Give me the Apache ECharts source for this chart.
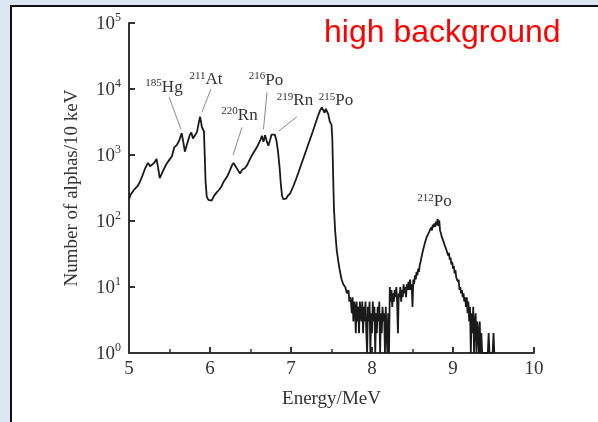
<!DOCTYPE html>
<html>
<head>
<meta charset="utf-8">
<script src="https://cdn.jsdelivr.net/npm/echarts@6/dist/echarts.min.js"></script>
<style>
  html, body { margin: 0; padding: 0; background: #dce6f2; }
  #wrap { position: relative; width: 598px; height: 422px; background: #dce6f2; overflow: hidden; }
  #paper { position: absolute; left: 9.5px; top: 4.5px; right: -5px; bottom: -5px; background: #fff;
           border-left: 2.5px solid #111; border-top: 2.5px solid #111; }
  #chart { position: absolute; left: 0; top: 0; width: 598px; height: 422px; }
</style>
</head>
<body>
<div id="wrap"><div id="paper"></div><div id="chart"></div></div>
<script>
// ---- data (energy in MeV, counts per 10 keV) ----
const energyMeV = [
  5.00, 5.02, 5.06, 5.10, 5.13, 5.17, 5.20, 5.235, 5.26, 5.28, 5.31, 5.34, 5.36, 5.38, 5.42, 5.46, 5.50, 5.53, 5.56, 5.59,
  5.62, 5.65, 5.67, 5.69, 5.72, 5.75, 5.77, 5.79, 5.815, 5.84, 5.86, 5.877, 5.89, 5.90, 5.91, 5.925, 5.935, 5.945, 5.96, 5.98,
  6.00, 6.02, 6.05, 6.08, 6.11, 6.14, 6.17, 6.21, 6.24, 6.27, 6.29, 6.31, 6.33, 6.35, 6.37, 6.40, 6.43, 6.46, 6.49, 6.52,
  6.55, 6.58, 6.60, 6.62, 6.64, 6.66, 6.68, 6.70, 6.72, 6.74, 6.76, 6.78, 6.80, 6.82, 6.84, 6.86, 6.875, 6.89, 6.905, 6.92,
  6.94, 6.96, 6.99, 7.03, 7.07, 7.11, 7.15, 7.19, 7.23, 7.27, 7.30, 7.33, 7.36, 7.38, 7.40, 7.415, 7.43, 7.445, 7.46, 7.48,
  7.50, 7.51, 7.52, 7.53, 7.545, 7.565, 7.585, 7.605, 7.625, 7.645, 7.67, 7.69, 7.71, 7.72, 7.73,
  7.74, 7.75, 7.76, 7.77, 7.78, 7.79, 7.80, 7.81, 7.82, 7.83, 7.84, 7.85, 7.86, 7.87, 7.88, 7.89, 7.90, 7.91, 7.92, 7.93,
  7.94, 7.95, 7.96, 7.97, 7.98, 7.99, 8.00, 8.01, 8.02, 8.03, 8.04, 8.05, 8.06, 8.07, 8.08, 8.09, 8.10, 8.11, 8.12, 8.13,
  8.14, 8.15, 8.16, 8.17, 8.18, 8.19, 8.20, 8.21, 8.22, 8.23, 8.24, 8.25, 8.26, 8.27, 8.28, 8.29, 8.30, 8.31, 8.32, 8.33,
  8.34, 8.35, 8.36, 8.37, 8.38, 8.39, 8.40, 8.41, 8.42, 8.43, 8.44, 8.45, 8.46, 8.47, 8.48, 8.49, 8.50, 8.51, 8.52, 8.53,
  8.54, 8.55, 8.56, 8.57, 8.58, 8.59, 8.60, 8.61, 8.62, 8.63, 8.64, 8.65, 8.66, 8.67, 8.68, 8.69, 8.70, 8.71, 8.72, 8.73,
  8.74, 8.75, 8.76, 8.77, 8.78, 8.79, 8.80, 8.81, 8.82, 8.83, 8.84, 8.85, 8.86, 8.87, 8.88, 8.89, 8.90, 8.91, 8.92, 8.93,
  8.94, 8.95, 8.96, 8.97, 8.98, 8.99, 9.00, 9.01, 9.02, 9.03, 9.04, 9.05, 9.06, 9.07, 9.08, 9.09, 9.10, 9.11, 9.12, 9.13,
  9.14, 9.15, 9.16, 9.17, 9.18, 9.19, 9.20, 9.21, 9.22, 9.23, 9.24, 9.25, 9.26, 9.27, 9.28, 9.29, 9.30, 9.31, 9.32, 9.33,
  9.34, 9.35, 9.36, 9.37, 9.43, 9.44, 9.45, 9.49, 9.50, 9.51
];
const countsPer10keV = [
  214, 251, 295, 331, 380, 501, 631, 759, 676, 631, 759, 871, 631, 447, 575, 724, 851, 955, 1318, 1413,
  1660, 2138, 1585, 1122, 1514, 1995, 2188, 1778, 1995, 2239, 3020, 3802, 3162, 2630, 2512, 2291, 1000, 398, 234, 209,
  219, 204, 240, 269, 295, 331, 398, 468, 562, 692, 759, 692, 661, 575, 525, 603, 631, 708, 851, 1000,
  1148, 1318, 1380, 1660, 1950, 1585, 1995, 1622, 1380, 1660, 2042, 2188, 2042, 1660, 1122, 631, 355, 240, 214, 229,
  219, 240, 263, 339, 457, 631, 871, 1202, 1660, 2291, 2951, 3802, 4786, 5248, 5370, 4365, 5012, 5370, 4169, 3162,
  2884, 1778, 501, 158, 71, 36, 24, 17, 13, 11, 10, 8, 9, 6, 7,
  6, 4, 7, 3, 6, 5, 2, 6, 3, 5, 2, 6, 4, 3, 6, 2, 5, 3, 6, 2,
  1, 5, 3, 6, 1, 4, 2, 6, 3, 5, 1, 4, 2, 5, 3, 6, 1, 4, 2, 5,
  3, 4, 1, 5, 2, 1, 4, 1, 10, 6, 9, 5, 8, 6, 9, 7, 10, 6, 2, 8,
  7, 10, 6, 9, 7, 11, 8, 10, 7, 11, 9, 12, 9, 13, 9, 11, 5, 13, 11, 15,
  13, 17, 15, 19, 17, 22, 24, 28, 30, 36, 38, 45, 44, 55, 52, 62, 60, 70, 75, 80,
  72, 88, 80, 92, 82, 98, 86, 108, 84, 102, 72, 66, 58, 60, 50, 52, 42, 45, 36, 38,
  30, 33, 26, 28, 22, 24, 19, 21, 16, 18, 14, 15, 12, 13, 9, 10, 8, 9, 7, 8,
  6, 7, 5, 7, 4, 6, 3, 5, 1, 4, 2, 5, 1, 3, 4, 1, 3, 2, 1, 3,
  1, 2, 1, 1, 1, 2, 1, 1, 2, 1
];

// x ticks and y tick exponents (labels 10^n)
const xTicks = [5, 6, 7, 8, 9, 10];
const yTickExponents = [0, 1, 2, 3, 4, 5];

// isotope annotations (label anchor in data coordinates)
const isoMass    = ['185', '211', '220', '216', '219', '215', '212'];
const isoElement = ['Hg',  'At',  'Rn',  'Po',  'Rn',  'Po',  'Po'];
const isoLabelE  = [5.432, 5.951, 6.364, 6.691, 7.049, 7.556, 8.772];
const isoLabelC  = [10700, 14100, 4070, 13800, 6760, 6760, 200];

// leader lines from label to peak
const leaderFromE = [5.494, 6.012, 6.395, 6.704, 7.074];
const leaderFromC = [7590, 10000, 2630, 8910, 3800];
const leaderToE   = [5.642, 5.901, 6.284, 6.660, 6.846];
const leaderToC   = [2450, 4470, 1000, 2450, 2290];

const serif = '"Liberation Serif", "DejaVu Serif", serif';
const inkDark = '#333';

const chart = echarts.init(document.getElementById('chart'), null, { renderer: 'canvas' });

const lineData = energyMeV.map((e, i) => [e, countsPer10keV[i]]);

const markPoints = isoMass.map((m, i) => ({
  coord: [isoLabelE[i], isoLabelC[i]],
  label: { formatter: '{s|' + m + '}{e|' + isoElement[i] + '}' }
}));

const markLines = leaderFromE.map((e, i) => [
  { coord: [e, leaderFromC[i]] },
  { coord: [leaderToE[i], leaderToC[i]] }
]);

chart.setOption({
  backgroundColor: 'transparent',
  animation: false,
  title: {
    text: 'high background',
    left: 319,
    top: 12,
    textStyle: { color: '#ff0000', fontFamily: '"Liberation Sans", Arial, sans-serif', fontSize: 32, fontWeight: 'normal' }
  },
  grid: { left: 129, right: 64, top: 23, bottom: 69 },
  xAxis: {
    type: 'value',
    min: xTicks[0],
    max: xTicks[xTicks.length - 1],
    interval: 1,
    name: 'Energy/MeV',
    nameLocation: 'middle',
    nameGap: 37,
    nameTextStyle: { fontFamily: serif, fontSize: 19, color: inkDark },
    axisLine: { onZero: false, lineStyle: { color: '#333', width: 2 } },
    axisTick: { inside: true, length: 6, lineStyle: { color: '#333', width: 2 } },
    minorTick: { show: true, splitNumber: 2, length: 4, lineStyle: { color: '#333', width: 1.5 } },
    axisLabel: { fontFamily: serif, fontSize: 19, color: inkDark, margin: 7 },
    splitLine: { show: false }
  },
  yAxis: {
    type: 'log',
    logBase: 10,
    min: Math.pow(10, yTickExponents[0]),
    max: Math.pow(10, yTickExponents[yTickExponents.length - 1]),
    name: 'Number of alphas/10 keV',
    nameLocation: 'middle',
    nameGap: 47,
    nameTextStyle: { fontFamily: serif, fontSize: 19, color: inkDark },
    axisLine: { show: true, lineStyle: { color: '#333', width: 2 } },
    axisTick: { show: true, inside: true, length: 6, lineStyle: { color: '#333', width: 2 } },
    minorTick: { show: false },
    splitLine: { show: false },
    axisLabel: {
      margin: 8,
      formatter: function (v) {
        const exp = yTickExponents[Math.round(Math.log10(v))];
        return '{b|10}{s|' + exp + '}';
      },
      rich: {
        b: { fontFamily: serif, fontSize: 19, color: inkDark, lineHeight: 22, verticalAlign: 'bottom' },
        s: { fontFamily: serif, fontSize: 12, color: inkDark, lineHeight: 22, verticalAlign: 'top' }
      }
    }
  },
  series: [{
    type: 'line',
    data: lineData,
    showSymbol: false,
    symbol: 'none',
    lineStyle: { color: '#1a1a1a', width: 1.8 },
    silent: true,
    markPoint: {
      symbol: 'rect',
      symbolSize: 1,
      itemStyle: { color: 'rgba(0,0,0,0)' },
      silent: true,
      label: {
        show: true,
        position: 'inside',
        rich: {
          s: { fontFamily: serif, fontSize: 11, color: inkDark, lineHeight: 18, verticalAlign: 'top' },
          e: { fontFamily: serif, fontSize: 17, color: inkDark, lineHeight: 18, verticalAlign: 'bottom' }
        }
      },
      data: markPoints
    },
    markLine: {
      symbol: 'none',
      silent: true,
      label: { show: false },
      lineStyle: { color: '#888', width: 1, type: 'solid' },
      emphasis: { disabled: true },
      data: markLines
    }
  }]
});
</script>
</body>
</html>
